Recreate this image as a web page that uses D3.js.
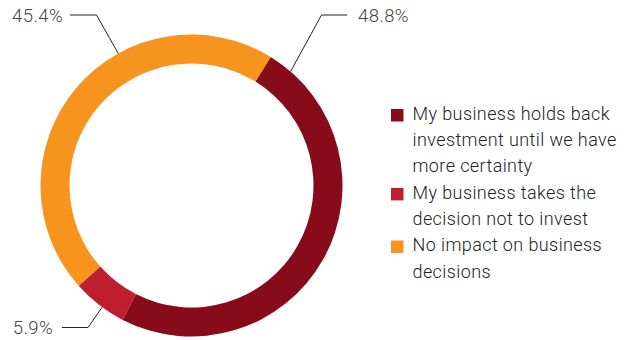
<!DOCTYPE html>
<html>
<head>
<meta charset="utf-8">
<script src="https://cdn.jsdelivr.net/npm/d3@7"></script>
<style>
  html, body { margin: 0; padding: 0; background: #fff; }
  svg { display: block; }
</style>
</head>
<body>
<svg id="chart" width="630" height="340"></svg>
<script>
// Survey responses (share of respondents, %)
const categories = [
  "My business holds back investment until we have more certainty",
  "My business takes the decision not to invest",
  "No impact on business decisions"
];
const values = [48.8, 5.9, 45.4];
const colors = ["#870b19", "#be1e2d", "#f7941d"];
const legendLines = [
  ["My business holds back", "investment until we have", "more certainty"],
  ["My business takes the", "decision not to invest"],
  ["No impact on business", "decisions"]
];

const svg = d3.select("#chart");
const cx = 191.5, cy = 185.5;
const outerR = 151, innerR = 122;

const pie = d3.pie().sort(null).value(d => d).startAngle(0.552).endAngle(0.552 + 2 * Math.PI);
const arcs = pie(values);
const arc = d3.arc().innerRadius(innerR).outerRadius(outerR);

const g = svg.append("g").attr("transform", `translate(${cx},${cy})`);
g.selectAll("path.slice")
  .data(arcs)
  .join("path")
  .attr("class", "slice")
  .attr("d", arc)
  .attr("fill", (d, i) => colors[i]);

// Leader lines: anchor angle on the ring, elbow point and label placement
const leaders = [
  { i: 0, angle: 41 * Math.PI / 180, elbow: [321.5, 15], end: [347, 15], text: [358, 17], anchor: "start" },
  { i: 1, angle: 216.3 * Math.PI / 180, elbow: [88, 327.5], end: [62, 327.5], text: [53, 329], anchor: "end" },
  { i: 2, angle: 331 * Math.PI / 180, elbow: [96.5, 15], end: [70, 15], text: [63, 17], anchor: "end" }
];

leaders.forEach(l => {
  const p = [cx + outerR * Math.sin(l.angle), cy - outerR * Math.cos(l.angle)];
  svg.append("polyline")
    .attr("points", [p, l.elbow, l.end].map(q => q.join(",")).join(" "))
    .attr("fill", "none")
    .attr("stroke", "#222")
    .attr("stroke-width", 1);
  svg.append("text")
    .attr("x", l.text[0])
    .attr("y", l.text[1])
    .attr("text-anchor", l.anchor)
    .attr("dominant-baseline", "middle")
    .attr("font-family", "Roboto, sans-serif")
    .attr("font-weight", 300)
    .attr("font-size", 18.5)
    .attr("letter-spacing", 0.4)
    .attr("fill", "#444")
    .text(values[l.i].toFixed(1) + "%");
});

// Legend
const legend = svg.append("g").attr("transform", "translate(391,0)");
const lineH = 26.3;
let row = 0;
legendLines.forEach((lines, i) => {
  const y0 = 115 + row * lineH;
  legend.append("rect")
    .attr("x", 0)
    .attr("y", y0 - 6)
    .attr("width", 12.5)
    .attr("height", 12.5)
    .attr("fill", colors[i]);
  lines.forEach((t, k) => {
    legend.append("text")
      .attr("x", 21.5)
      .attr("y", y0 + k * lineH)
      .attr("dominant-baseline", "middle")
      .attr("font-family", "Roboto, sans-serif")
      .attr("font-weight", 300)
      .attr("font-size", 18)
      .attr("letter-spacing", 0.4)
      .attr("fill", "#222")
      .text(t);
  });
  row += lines.length;
});
</script>
</body>
</html>
